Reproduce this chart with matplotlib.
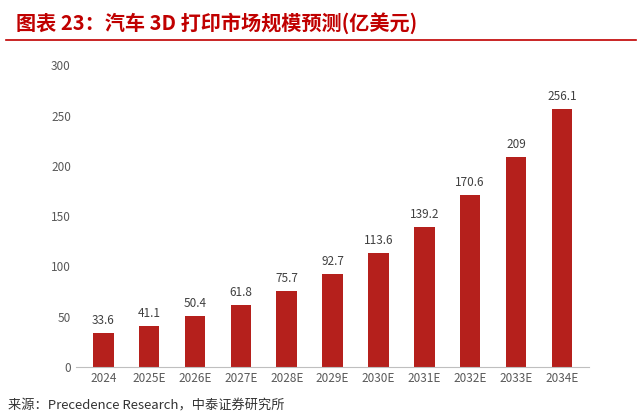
import matplotlib
matplotlib.use("Agg")
import matplotlib.pyplot as plt

plt.rcParams['font.family'] = ['Noto Sans CJK SC', 'DejaVu Sans']

years = ["2024", "2025E", "2026E", "2027E", "2028E", "2029E", "2030E", "2031E", "2032E", "2033E", "2034E"]
values = [33.6, 41.1, 50.4, 61.8, 75.7, 92.7, 113.6, 139.2, 170.6, 209, 256.1]
labels = ["33.6", "41.1", "50.4", "61.8", "75.7", "92.7", "113.6", "139.2", "170.6", "209", "256.1"]

fig = plt.figure(figsize=(6.42, 4.18), dpi=100)
fig.text(0.025, 0.945, "图表 23：汽车 3D 打印市场规模预测(亿美元)", color="#C00000",
         fontsize=14.5, fontweight="bold", style="italic", va="center")
fig.add_artist(plt.Line2D([0.01, 0.99], [0.905, 0.905], color="#C00000", lw=1.2))
fig.text(0.012, 0.028, "来源：Precedence Research，中泰证券研究所", color="#333333",
         fontsize=9.5, va="center")

ax = fig.add_axes([0.118, 0.122, 0.8, 0.722])
x = range(len(years))
ax.bar(x, values, width=0.45, color="#B5201C")
for i, (v, l) in enumerate(zip(values, labels)):
    ax.text(i, v + 6, l, ha="center", va="bottom", fontsize=8.5, color="#404040")
ax.set_ylim(0, 300)
ax.set_yticks(range(0, 301, 50))
ax.set_xticks(list(x))
ax.set_xticklabels(years)
ax.set_xlim(-0.6, len(years) - 0.4)
ax.tick_params(axis="both", length=0, labelsize=8.5, colors="#595959")
for s in ["top", "right", "left"]:
    ax.spines[s].set_visible(False)
ax.spines["bottom"].set_color("#BFBFBF")
fig.savefig("out.png", dpi=100)
